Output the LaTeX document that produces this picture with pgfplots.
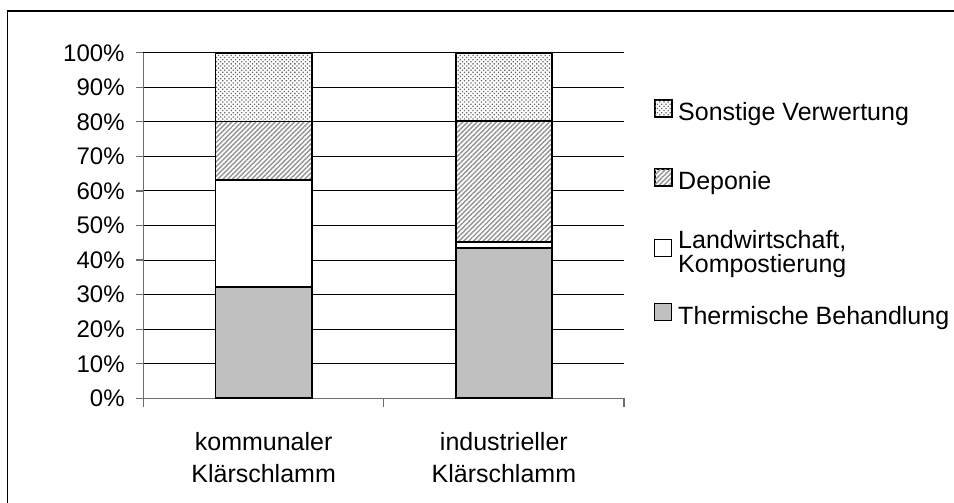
\documentclass[border=0pt]{standalone}
\usepackage{fontspec}
\setmainfont{Liberation Sans}
\usepackage{pgfplots}
\pgfplotsset{compat=1.18}
\usetikzlibrary{patterns,patterns.meta}

\definecolor{thermgray}{RGB}{192,192,192}
\definecolor{axisgray}{RGB}{110,110,110}

% legend square with an invisible vertical extent (#2 below, #3 above the origin)
\newcommand{\legsq}[3]{%
  \pgfpathmoveto{\pgfqpoint{0pt}{-#2}}\pgfpathlineto{\pgfqpoint{0pt}{#3}}\pgfusepath{}%
  \draw[#1, draw=black, line width=0.6pt] (0pt,-1.9pt) rectangle (8.5pt,6.6pt);}
\pgfplotsset{
  leg therm/.style={legend image code/.code={\legsq{##1}{4.5pt}{9pt}}},
  leg landw/.style={legend image code/.code={\legsq{##1}{23pt}{9pt}}},
  leg depo/.style={legend image code/.code={\legsq{##1}{24pt}{9pt}}},
  leg sonst/.style={legend image code/.code={\legsq{##1}{25.5pt}{9pt}}},
}

\begin{document}
\begin{tikzpicture}
\useasboundingbox (0,0) rectangle (477pt,251.5pt);
\draw[line width=0.65pt] (3.65pt,-20pt) rectangle (520pt,246pt);
\begin{axis}[
  at={(71.75pt,52.35pt)}, anchor=south west,
  scale only axis, width=240.25pt, height=172.75pt,
  ybar stacked, bar width=0.4,
  xmin=0.5, xmax=2.5, ymin=0, ymax=100,
  xtick={1,2},
  xticklabels={{kommunaler\\Klärschlamm},{industrieller\\Klärschlamm}},
  minor xtick={0.5,1.5,2.5},
  ytick={0,10,...,100},
  yticklabel={\pgfmathprintnumber[assume math mode=true]{\tick}\%},
  ymajorgrids, grid style={black, line width=0.5pt},
  axis x line*=bottom, axis y line*=left,
  axis line style={axisgray, line width=0.7pt},
  tick align=outside,
  major tick length=3.5pt, minor tick length=4.5pt,
  tick style={axisgray, line width=0.6pt},
  major x tick style={draw=none},
  font=\fontsize{12}{14.4}\selectfont,
  xticklabel style={align=center, font=\fontsize{12.5}{16}\selectfont, inner sep=0pt, anchor=north, yshift=-13.3pt},
  yticklabel style={inner sep=0pt, anchor=east, xshift=-5.75pt},
  reverse legend,
  legend style={at={(rel axis cs:1.0625,0.8777)}, anchor=north west, draw=none, fill=none,
    inner sep=0pt, outer sep=0pt, row sep=0pt, column sep=3pt,
    nodes={inner sep=0pt, outer sep=0pt}, font=\fontsize{12.5}{15}\selectfont},
  legend cell align=left,
]
\addplot[fill=thermgray, draw=black, line width=0.9pt, leg therm]
  coordinates {(1,32.1) (2,43.4)};
\addlegendentry{Thermische Behandlung}
\addplot[fill=white, draw=black, line width=0.9pt, leg landw]
  coordinates {(1,31.1) (2,1.9)};
\addlegendentry[align=left]{Landwirtschaft,\\[-2.8pt]Kompostierung}
\addplot[preaction={fill=white}, pattern={Lines[angle=45,distance=1.7pt,line width=0.7pt]}, pattern color=gray!85, draw=black, line width=0.9pt, leg depo]
  coordinates {(1,16.9) (2,35.0)};
\addlegendentry{Deponie}
\addplot[preaction={fill=white}, pattern={Dots[angle=45,distance=1.5pt,radius=0.45pt]}, pattern color=gray!80!black, draw=black, line width=0.9pt, leg sonst]
  coordinates {(1,19.9) (2,19.7)};
\addlegendentry{Sonstige Verwertung}
\end{axis}
\end{tikzpicture}
\end{document}
